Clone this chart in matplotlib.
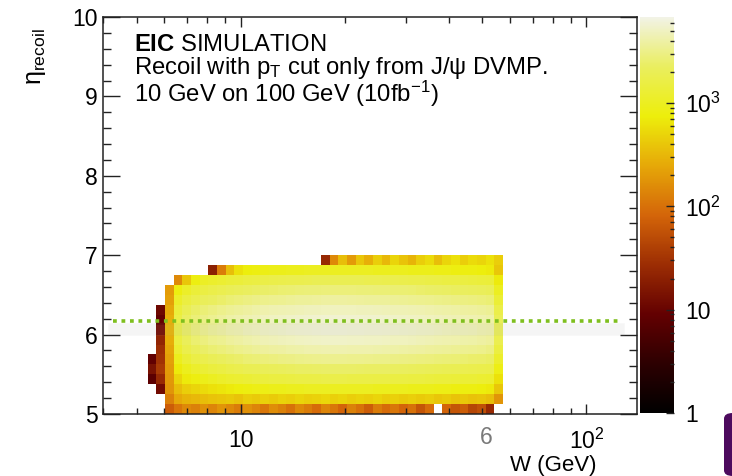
import numpy as np
import matplotlib
matplotlib.use("Agg")
import matplotlib.pyplot as plt
from matplotlib.colors import LinearSegmentedColormap, LogNorm
from matplotlib.ticker import (FixedLocator, FixedFormatter, LogLocator,
                               MultipleLocator, NullFormatter, FuncFormatter)
from matplotlib.patches import FancyBboxPatch

plt.rcParams['font.family'] = ['Liberation Sans', 'DejaVu Sans']
plt.rcParams['mathtext.fontset'] = 'custom'
plt.rcParams['mathtext.rm'] = 'Liberation Sans'
plt.rcParams['mathtext.it'] = 'Liberation Sans:italic'
plt.rcParams['mathtext.bf'] = 'Liberation Sans:bold'

# ---------------- data ----------------
# histogram binning (log-uniform in W, uniform in eta)
W_LOW, W_HIGH, N_W = 5.385, 57.4, 41
ETA_LOW, ETA_HIGH, N_ETA = 5.0, 7.0, 16
ETA_CUT = 6.17

# counts per eta row (row 0 = lowest eta), 41 W bins each; 0 = empty
row00 = [0,0,70,110,150,130,170,140,180,150,120,170,140,110,160,130,100,150,120,90,140,110,80,130,100,70,120,90,110,80,100,60,90,0,80,60,70,45,55,25,0]
row01 = [0,0,130,250,300,320,350,380,400,420,380,450,420,470,430,480,450,500,460,480,520,470,500,450,490,460,500,440,470,430,460,420,450,400,430,380,410,370,390,350,180]
row02 = [0,12,180,350,450,500,550,600,650,700,750,800,850,850,900,900,950,950,1000,1000,1000,1000,1000,1000,1000,1000,950,950,950,950,900,900,900,850,850,800,800,800,750,700,400]
row03 = [8,25,190,500,700,800,900,1000,1100,1200,1250,1300,1400,1450,1500,1500,1550,1600,1600,1650,1700,1700,1700,1650,1650,1650,1600,1600,1550,1550,1500,1500,1450,1400,1400,1350,1300,1300,1250,1200,600]
row04 = [14,35,200,700,950,1150,1300,1450,1550,1700,1800,1900,1950,2050,2100,2150,2250,2300,2300,2350,2400,2400,2400,2400,2350,2300,2300,2300,2250,2200,2150,2100,2050,2000,1950,1900,1850,1800,1750,1700,850]
row05 = [9,30,220,950,1300,1600,1800,2000,2150,2300,2450,2600,2700,2800,2900,3000,3050,3150,3200,3250,3300,3300,3300,3250,3250,3200,3150,3150,3050,3000,2950,2900,2850,2750,2700,2650,2550,2500,2450,2300,1150]
row06 = [0,28,240,1250,1750,2100,2400,2600,2800,3000,3200,3400,3550,3700,3800,3900,4000,4100,4200,4250,4300,4300,4300,4250,4250,4200,4150,4100,4000,3950,3900,3800,3700,3600,3550,3450,3400,3300,3200,3000,1500]
row07 = [0,22,270,1500,2100,2550,2900,3200,3400,3700,3900,4100,4300,4500,4650,4750,4900,5000,5100,5200,5300,5300,5300,5200,5200,5100,5100,5000,4900,4850,4750,4650,4550,4400,4300,4200,4100,4000,3900,3700,1850]
row08 = [0,12,300,1700,2400,2900,3300,3600,3900,4200,4400,4700,4900,5100,5300,5400,5600,5700,5800,5900,6000,6000,6000,5900,5900,5800,5800,5700,5600,5500,5400,5300,5200,5000,4900,4800,4700,4600,4400,4200,2100]
row09 = [0,9,280,1600,2300,2750,3100,3400,3700,4000,4200,4450,4650,4850,5000,5150,5300,5400,5500,5600,5700,5700,5700,5600,5600,5500,5500,5400,5300,5200,5100,5000,4900,4750,4650,4550,4450,4350,4200,4000,2000]
row10 = [0,11,250,1400,1950,2400,2700,2950,3200,3450,3600,3850,4000,4200,4350,4450,4550,4650,4750,4800,4900,4900,4900,4850,4800,4750,4700,4650,4550,4500,4450,4350,4250,4100,4000,3950,3850,3750,3600,3450,1700]
row11 = [0,0,220,1100,1500,1800,2100,2250,2450,2650,2800,2950,3100,3200,3350,3400,3500,3600,3650,3700,3800,3800,3800,3750,3700,3650,3600,3600,3500,3450,3400,3350,3250,3150,3100,3000,2950,2900,2800,2650,1300]
row12 = [0,0,200,800,1100,1350,1550,1700,1850,2000,2100,2200,2300,2400,2500,2550,2600,2700,2750,2750,2800,2800,2800,2800,2750,2750,2700,2700,2600,2600,2550,2500,2400,2350,2300,2250,2200,2150,2100,2000,1000]
row13 = [0,0,0,150,400,800,1050,1150,1250,1350,1400,1500,1550,1650,1700,1750,1800,1800,1850,1900,1900,1900,1900,1900,1900,1850,1850,1800,1800,1750,1700,1700,1650,1600,1550,1550,1500,1450,1400,1350,700]
row14 = [0,0,0,0,0,0,0,20,120,350,600,750,800,850,900,900,950,950,1000,1000,1000,1000,1000,1000,1000,1000,950,950,950,950,900,900,900,850,850,800,800,800,750,700,400]
row15 = [0,0,0,0,0,0,0,0,0,0,0,0,0,0,0,0,0,0,0,0,25,150,350,200,400,280,450,320,500,380,300,450,550,350,500,600,450,550,500,600,450]

counts_rows = [row00, row01, row02, row03, row04, row05, row06, row07,
               row08, row09, row10, row11, row12, row13, row14, row15]

Z_MIN, Z_MAX = 1, 6800

# ---------------- style ----------------
# ROOT kDarkBodyRadiator palette
pal_r = [0, 45, 99, 156, 212, 230, 237, 234, 242]
pal_g = [0, 0, 0, 45, 101, 168, 238, 238, 243]
pal_b = [0, 1, 1, 3, 9, 8, 11, 95, 230]
cols = [(r / 255, g / 255, b / 255) for r, g, b in zip(pal_r, pal_g, pal_b)]
cmap = LinearSegmentedColormap.from_list("darkbody", cols, N=512)
cmap.set_bad((1, 1, 1, 0))

FW, FH = 732, 476
fig = plt.figure(figsize=(FW / 100, FH / 100), dpi=100)

def fx(px):
    return px / FW

def fy(py):
    return 1 - py / FH

ax = fig.add_axes([fx(103), fy(414), fx(637) - fx(103), fy(17) - fy(414)])
cax = fig.add_axes([fx(640), fy(413), fx(674) - fx(640), fy(17) - fy(413)])

W_edges = np.geomspace(W_LOW, W_HIGH, N_W + 1)
eta_edges = np.linspace(ETA_LOW, ETA_HIGH, N_ETA + 1)
Z = np.ma.masked_less_equal(np.array(counts_rows, dtype=float), 0)

mesh = ax.pcolormesh(W_edges, eta_edges, Z, cmap=cmap,
                     norm=LogNorm(vmin=Z_MIN, vmax=Z_MAX), shading='flat',
                     edgecolors='none', antialiased=False)

ax.set_xscale('log')
ax.set_xlim(4, 140)
ax.set_ylim(5, 10)

# cut line with faint shadow
ax.axhline(ETA_CUT - 0.1, xmin=0.02, xmax=0.965, color='#9a9a9a', alpha=0.09,
           lw=9, zorder=3)
ax.axhline(ETA_CUT, xmin=0.0187, xmax=0.964, color='#7fbf1f', lw=2.6,
           linestyle=(0, (1.05, 1.3)), dash_capstyle='butt', zorder=4)

# axes ticks
ax.xaxis.set_major_locator(FixedLocator([10, 100]))
ax.xaxis.set_major_formatter(FixedFormatter(['10', r'10$^{\mathregular{2}}$']))
ax.xaxis.set_minor_locator(LogLocator(base=10, subs=np.arange(2, 10)))
ax.xaxis.set_minor_formatter(NullFormatter())
ax.yaxis.set_major_locator(MultipleLocator(1))
ax.yaxis.set_minor_locator(MultipleLocator(0.2))
ax.yaxis.set_major_formatter(FuncFormatter(lambda v, p: f"{v:.0f}"))

ax.tick_params(axis='both', which='both', direction='in', top=True, right=True,
               color='#222222', labelsize=16.5)
ax.tick_params(axis='x', which='major', length=7.5, width=1.0, pad=10.5)
ax.tick_params(axis='x', which='minor', length=4, width=1.0)
ax.tick_params(axis='y', which='major', length=12.5, width=1.0, pad=4)
ax.tick_params(axis='y', which='minor', length=6, width=1.0)
for s in ax.spines.values():
    s.set_linewidth(1.1)
    s.set_color('#222222')

# colorbar
cb = fig.colorbar(mesh, cax=cax)
cb.outline.set_visible(False)
cax.yaxis.set_ticks_position('right')
cax.yaxis.set_major_locator(FixedLocator([1, 10, 100, 1000]))
cax.yaxis.set_major_formatter(FixedFormatter(['1', '10', r'10$^{\mathregular{2}}$',
                                              r'10$^{\mathregular{3}}$']))
cax.yaxis.set_minor_locator(LogLocator(base=10, subs=np.arange(2, 10)))
cax.yaxis.set_minor_formatter(NullFormatter())
cax.tick_params(axis='y', which='both', direction='in', color='#222222',
                labelsize=16.5)
cax.tick_params(axis='y', which='major', length=5.5, width=1.0, pad=8)
cax.tick_params(axis='y', which='minor', length=3, width=1.0)

# texts (one block, tight line spacing as in the reference)
TXT = 17.2
label_lines = [r'$\mathbf{EIC}$ SIMULATION',
               r'Recoil with p$_{\mathregular{T}}$ cut only from J/ψ DVMP.',
               r'10 GeV on 100 GeV (10fb$^{\mathregular{-1}}$)']
fig.text(fx(134), fy(34), "\n".join(label_lines), fontsize=TXT,
         va='top', ha='left', linespacing=0.93)
fig.text(fx(36), fy(28), r'η$_{\mathregular{recoil}}$', rotation=90, fontsize=18,
         ha='center', va='top')
fig.text(fx(597), fy(455), 'W (GeV)', fontsize=16, ha='right', va='top')
fig.text(fx(486), fy(438), '6', fontsize=16.5, color='#7a7a7a', ha='center',
         va='center')

# purple corner shape at bottom right
fig.patches.append(FancyBboxPatch((fx(724), 0), fx(760) - fx(724), fy(413),
                                  boxstyle="round,pad=0,rounding_size=0.012",
                                  transform=fig.transFigure, facecolor='#4d0b5e',
                                  edgecolor='none', figure=fig))

fig.savefig('out.png', dpi=100)
